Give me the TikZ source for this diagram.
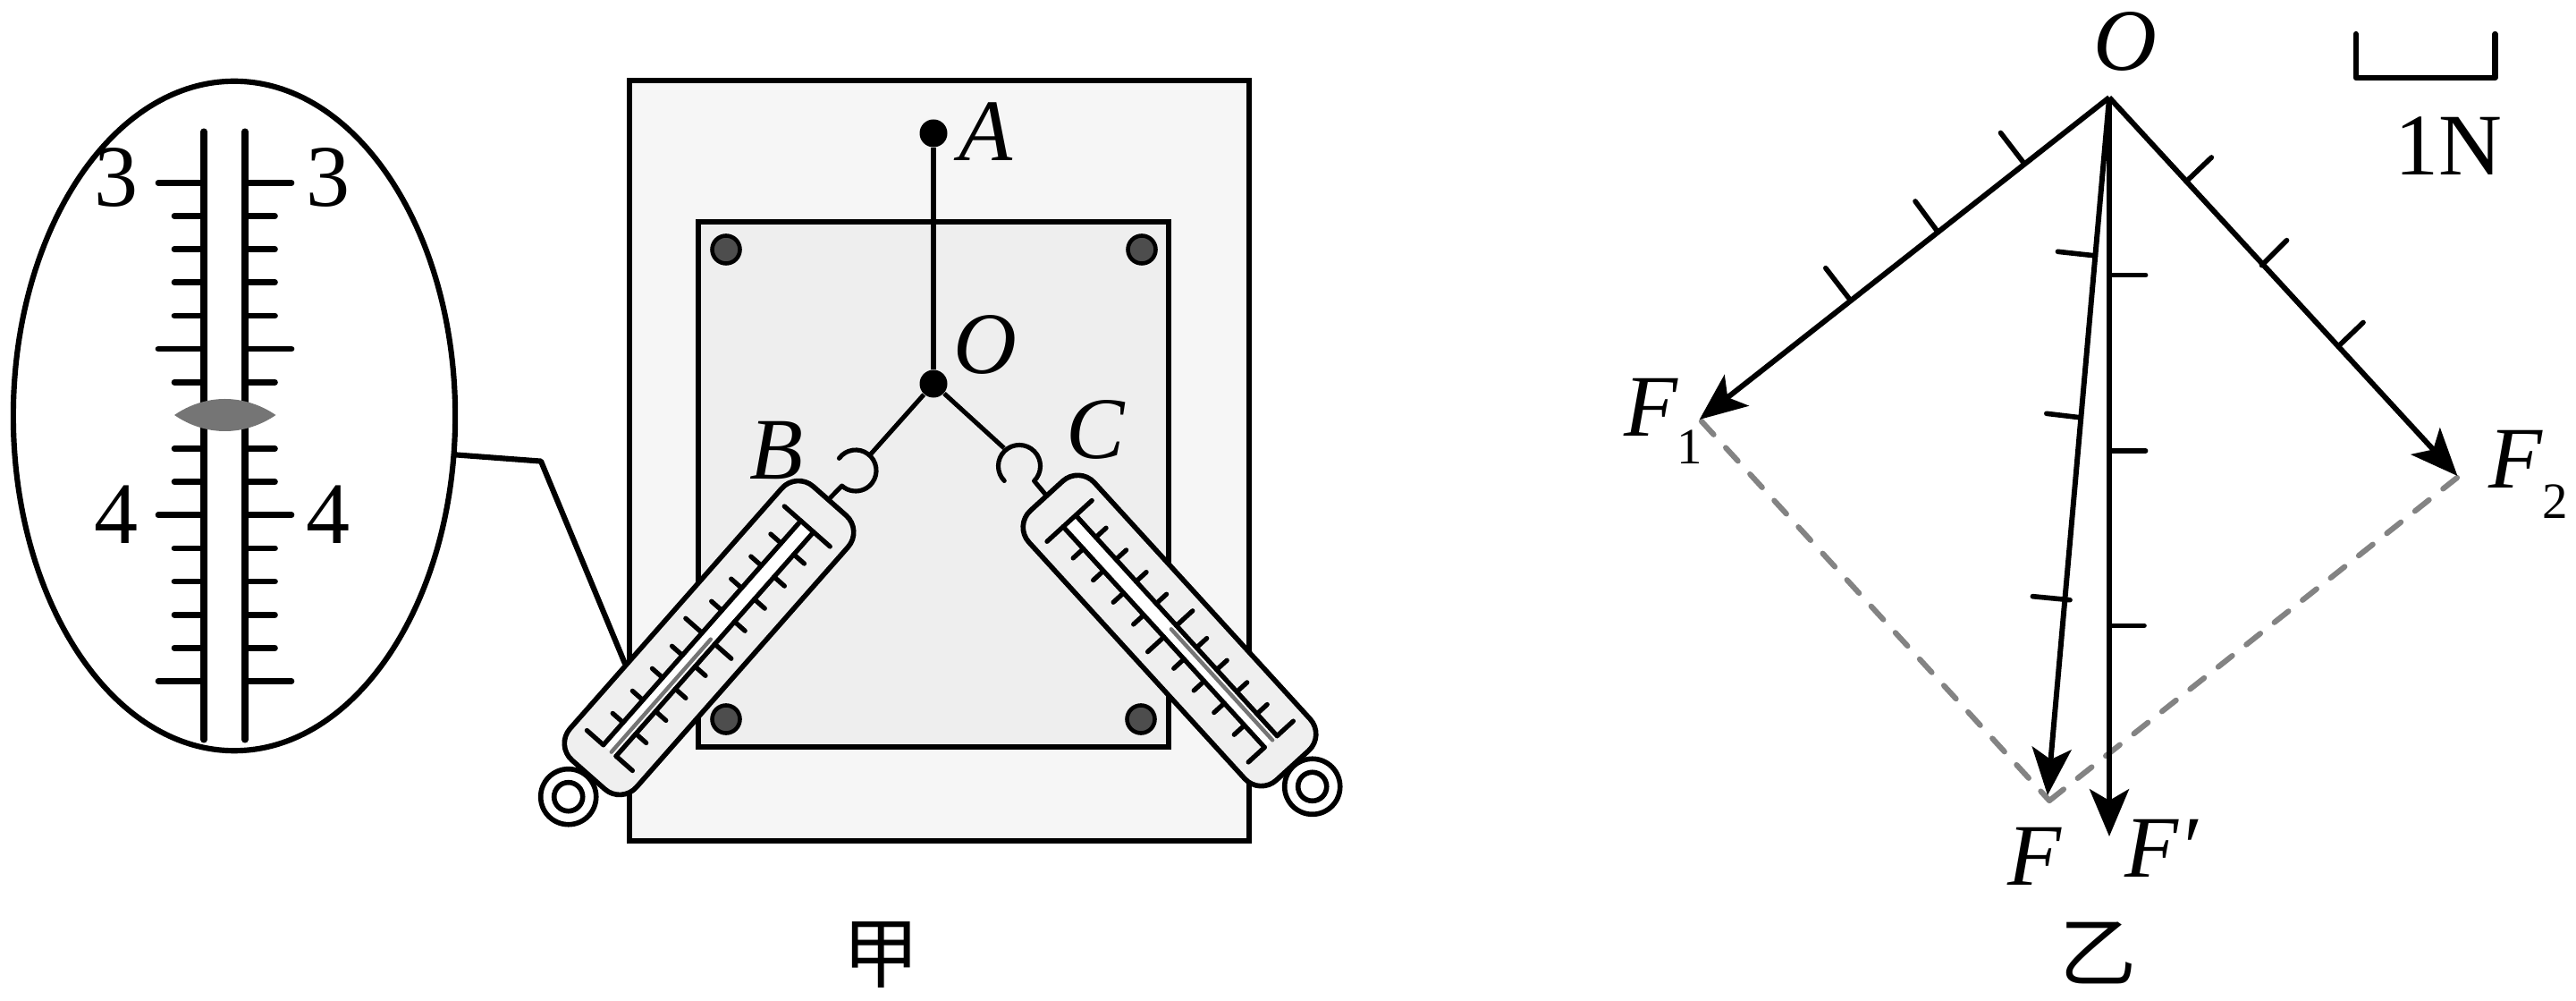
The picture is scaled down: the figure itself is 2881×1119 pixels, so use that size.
\documentclass[tikz,border=0pt]{standalone}
\usepackage{fontspec}
\setmainfont{Liberation Serif}
\newfontfamily\cjkfam{Noto Sans CJK SC}
\usetikzlibrary{arrows.meta,shapes.geometric}
\definecolor{boardout}{HTML}{F6F6F6}
\definecolor{boardin}{HTML}{EEEEEE}
\definecolor{bodyfill}{HTML}{EFEFEF}
\definecolor{pegfill}{HTML}{4D4D4D}
\definecolor{markgray}{HTML}{757575}
\definecolor{dashgray}{HTML}{838383}
\tikzset{
  thick5/.style={draw=black,line width=1.6pt},
  tk/.style={draw=black,line width=1.5pt,line cap=round},
  magtk/.style={draw=black,line width=1.9pt,line cap=round},
  rail/.style={draw=black,line width=2pt,line cap=round},
  big/.style={inner sep=0pt,font=\fontsize{27.9}{30}\selectfont},
  bigit/.style={inner sep=0pt,font=\fontsize{27.9}{30}\selectfont\itshape},
  subs/.style={inner sep=0pt,font=\fontsize{16.2}{18}\selectfont},
  cjklab/.style={inner sep=0pt,font=\fontsize{24.5}{26}\selectfont\cjkfam},
  peg/.style={circle,draw=black,fill=pegfill,line width=1.3pt,minimum size=0.31cm,inner sep=0pt},
  knot/.style={circle,fill=black,minimum size=0.31cm,inner sep=0pt},
  force/.style={draw=black,line width=1.7pt,-{Stealth[length=15pt,width=12.5pt,inset=3.6pt]}},
  ftick/.style={draw=black,line width=1.6pt,line cap=round},
  ptdash/.style={draw=dashgray,line width=1.75pt,line cap=round,dash pattern=on 5.7pt off 5.7pt},
  string/.style={draw=black,line width=1.45pt},
  ring/.style={circle,draw=black,fill=white,line width=1.6pt,inner sep=0pt},
}
\newcommand{\springbody}{%
  \draw[thick5,fill=bodyfill,rounded corners=0.25cm] (-204,-49.5) rectangle (204,49.5);
  \fill[white] (-168,-9.5) rectangle (166,9.5);
  \draw[tk] (-168,-9.5) -- (166,-9.5);
  \draw[tk] (-168,9.5) -- (166,9.5);
  \foreach \k in {1,2,3,4,6,7,8,9}{
    \draw[tk] ({166-33.4*\k},-9.5) -- ({166-33.4*\k},-25);
    \draw[tk] ({166-33.4*\k},9.5) -- ({166-33.4*\k},25);
  }
  \draw[tk] (-1,-9.5) -- (-1,-34);
  \draw[tk] (-1,9.5) -- (-1,34);
  \draw[tk] (166,-34) -- (166,34);
  \draw[tk] (-168,-9.5) -- (-168,-34);
  \draw[tk] (-168,9.5) -- (-168,34);
  \draw[draw=markgray,line width=1.25pt,line cap=round] (0,2.5) -- (-168,2.5);
}
\begin{document}
\begin{tikzpicture}[x=0.01cm,y=-0.01cm]
\useasboundingbox (0,0) rectangle (2881,1119);
\fill[white] (0,0) rectangle (2881,1119);

% ---------- magnified scale
\node[ellipse,draw=black,line width=1.75pt,fill=white,minimum width=4.94cm,minimum height=7.48cm,inner sep=0pt,outer sep=0pt] (view) at (262,465) {};
\foreach \k in {1,2,3,4,6,8,9,11,12,13,14}{
  \draw[magtk] (195,{204.4+37.14*\k}) -- (228,{204.4+37.14*\k});
  \draw[magtk] (274,{204.4+37.14*\k}) -- (307.5,{204.4+37.14*\k});
}
\foreach \k in {0,5,10,15}{
  \draw[magtk] (177,{204.4+37.14*\k}) -- (228,{204.4+37.14*\k});
  \draw[magtk] (274,{204.4+37.14*\k}) -- (326,{204.4+37.14*\k});
}
\draw[rail] (228,147) -- (228,827);
\draw[rail] (274,147) -- (274,827);
\fill[markgray] (195,464) .. controls (230,440) and (273,440) .. (308.5,464)
  .. controls (273,488) and (230,488) .. (195,464) -- cycle;
\node[big] (l3) at (130,199) {3};
\node[big] (r3) at (367,199) {3};
\node[big] (l4) at (130,575) {4};
\node[big] (r4) at (367,575) {4};

% ---------- boards
\draw[thick5,fill=boardout] (704,90) rectangle (1397,940);
\draw[thick5,fill=boardin] (781,248) rectangle (1307,835);
\node[peg] (p1) at (812,279) {};
\node[peg] (p2) at (1277,279) {};
\node[peg] (p3) at (812,804) {};
\node[peg] (p4) at (1276,804) {};

% ---------- leader line
\coordinate (bend) at (605,515.6);
\coordinate (leadend) at (699,742);
\draw[draw=black,line width=1.75pt,line join=round] (view.-10.9) -- (bend) -- (leadend);

% ---------- strings and hooks
\node[knot] (A) at (1044,149) {};
\node[knot] (Oj) at (1044,429) {};
\coordinate (hbtop) at (973,508.6);
\coordinate (hctop) at (1123,501);
\draw[string] (A) -- (Oj);
\draw[string] (Oj) -- (hbtop);
\draw[string] (Oj) -- (hctop);
\coordinate (hbc) at (957,526);
\coordinate (hcc) at (1140,521);
\coordinate (hbend) at (925,560);
\coordinate (hcend) at (1172,556);
\draw[string,line cap=round,line join=round] (hbc) ++(143.6:0.23cm) arc[start angle=143.6,end angle=-132,radius=0.23cm] -- (hbend);
\draw[string,line cap=round,line join=round] (hcc) ++(224.5:0.235cm) arc[start angle=224.5,end angle=-45,radius=0.235cm] -- (hcend);

% ---------- rings and spring balances
\node[ring,minimum size=0.62cm] (rb) at (635.7,890.7) {};
\node[ring,minimum size=0.32cm] (rbi) at (635.7,890.7) {};
\node[ring,minimum size=0.62cm] (rc) at (1467.7,879.3) {};
\node[ring,minimum size=0.32cm] (rci) at (1467.7,879.3) {};
\begin{scope}[shift={(793,713)},rotate=48.6]
  \springbody
\end{scope}
\begin{scope}[shift={(1308,705)},rotate=132.4]
  \springbody
\end{scope}

% ---------- labels left
\node[bigit] (la) at (1102,147) {A};
\node[bigit] (lo) at (1102,386) {O};
\node[bigit] (lb) at (868,503.6) {B};
\node[bigit] (lc) at (1225,480) {C};
\node[cjklab] (jia) at (986,1067) {甲};

% ---------- force diagram
\coordinate (O) at (2359,109);
\coordinate (F1) at (1900.7,469);
\coordinate (F2) at (2748.4,532);
\coordinate (F) at (2290,889);
\coordinate (Fp) at (2359,935);
\coordinate (J) at (2292,895);
\coordinate (F1d) at (1903,471);
\coordinate (F2d) at (2748,534);
\draw[ptdash] (F1d) -- (J);
\draw[ptdash] (F2d) -- (J);
\draw[force] (O) -- (F1);
\draw[force] (O) -- (F2);
\draw[force] (O) -- (F);
\draw[force] (O) -- (Fp);

\coordinate (t1a) at (2237.5,148.5); \coordinate (t1b) at (2264,183);
\coordinate (t2a) at (2142,225);     \coordinate (t2b) at (2167.4,259.5);
\coordinate (t3a) at (2041.8,299.7); \coordinate (t3b) at (2069,335);
\draw[ftick] (t1a) -- (t1b);
\draw[ftick] (t2a) -- (t2b);
\draw[ftick] (t3a) -- (t3b);
\coordinate (t4a) at (2473.3,176);   \coordinate (t4b) at (2445,203);
\coordinate (t5a) at (2557.5,268.7); \coordinate (t5b) at (2529.5,296.6);
\coordinate (t6a) at (2643,360.5);   \coordinate (t6b) at (2615,387.3);
\draw[ftick] (t4a) -- (t4b);
\draw[ftick] (t5a) -- (t5b);
\draw[ftick] (t6a) -- (t6b);
\coordinate (t7a) at (2301.4,281.3); \coordinate (t7b) at (2343.5,285.9);
\coordinate (t8a) at (2288.8,462.3); \coordinate (t8b) at (2327.4,466.9);
\coordinate (t9a) at (2273.3,666.7); \coordinate (t9b) at (2315,670.7);
\draw[ftick] (t7a) -- (t7b);
\draw[ftick] (t8a) -- (t8b);
\draw[ftick] (t9a) -- (t9b);
\coordinate (t10a) at (2359,307.5);  \coordinate (t10b) at (2399.6,307.5);
\coordinate (t11a) at (2359,504);    \coordinate (t11b) at (2399.6,504);
\coordinate (t12a) at (2359,699.5);  \coordinate (t12b) at (2398,699.5);
\draw[ftick] (t10a) -- (t10b);
\draw[ftick] (t11a) -- (t11b);
\draw[ftick] (t12a) -- (t12b);

% ---------- scale bar
\coordinate (s1) at (2634.7,38);
\coordinate (s2) at (2634.7,87);
\coordinate (s3) at (2790.5,87);
\coordinate (s4) at (2790.5,38);
\draw[draw=black,line width=1.75pt,line cap=round,line join=round] (s1) -- (s2) -- (s3) -- (s4);
\node[big] (unit) at (2738,163) {1N};

% ---------- labels right
\node[bigit] (lO) at (2376.5,47) {O};
\node[bigit] (lF1) at (1846,455) {F};
\node[subs] (lF1s) at (1890,500) {1};
\node[bigit] (lF2) at (2813,513) {F};
\node[subs] (lF2s) at (2858,561) {2};
\node[bigit] (lF) at (2275,957) {F};
\node[bigit] (lFp) at (2417,948) {F′};
\node[cjklab] (yi) at (2347,1065) {乙};
\end{tikzpicture}
\end{document}
